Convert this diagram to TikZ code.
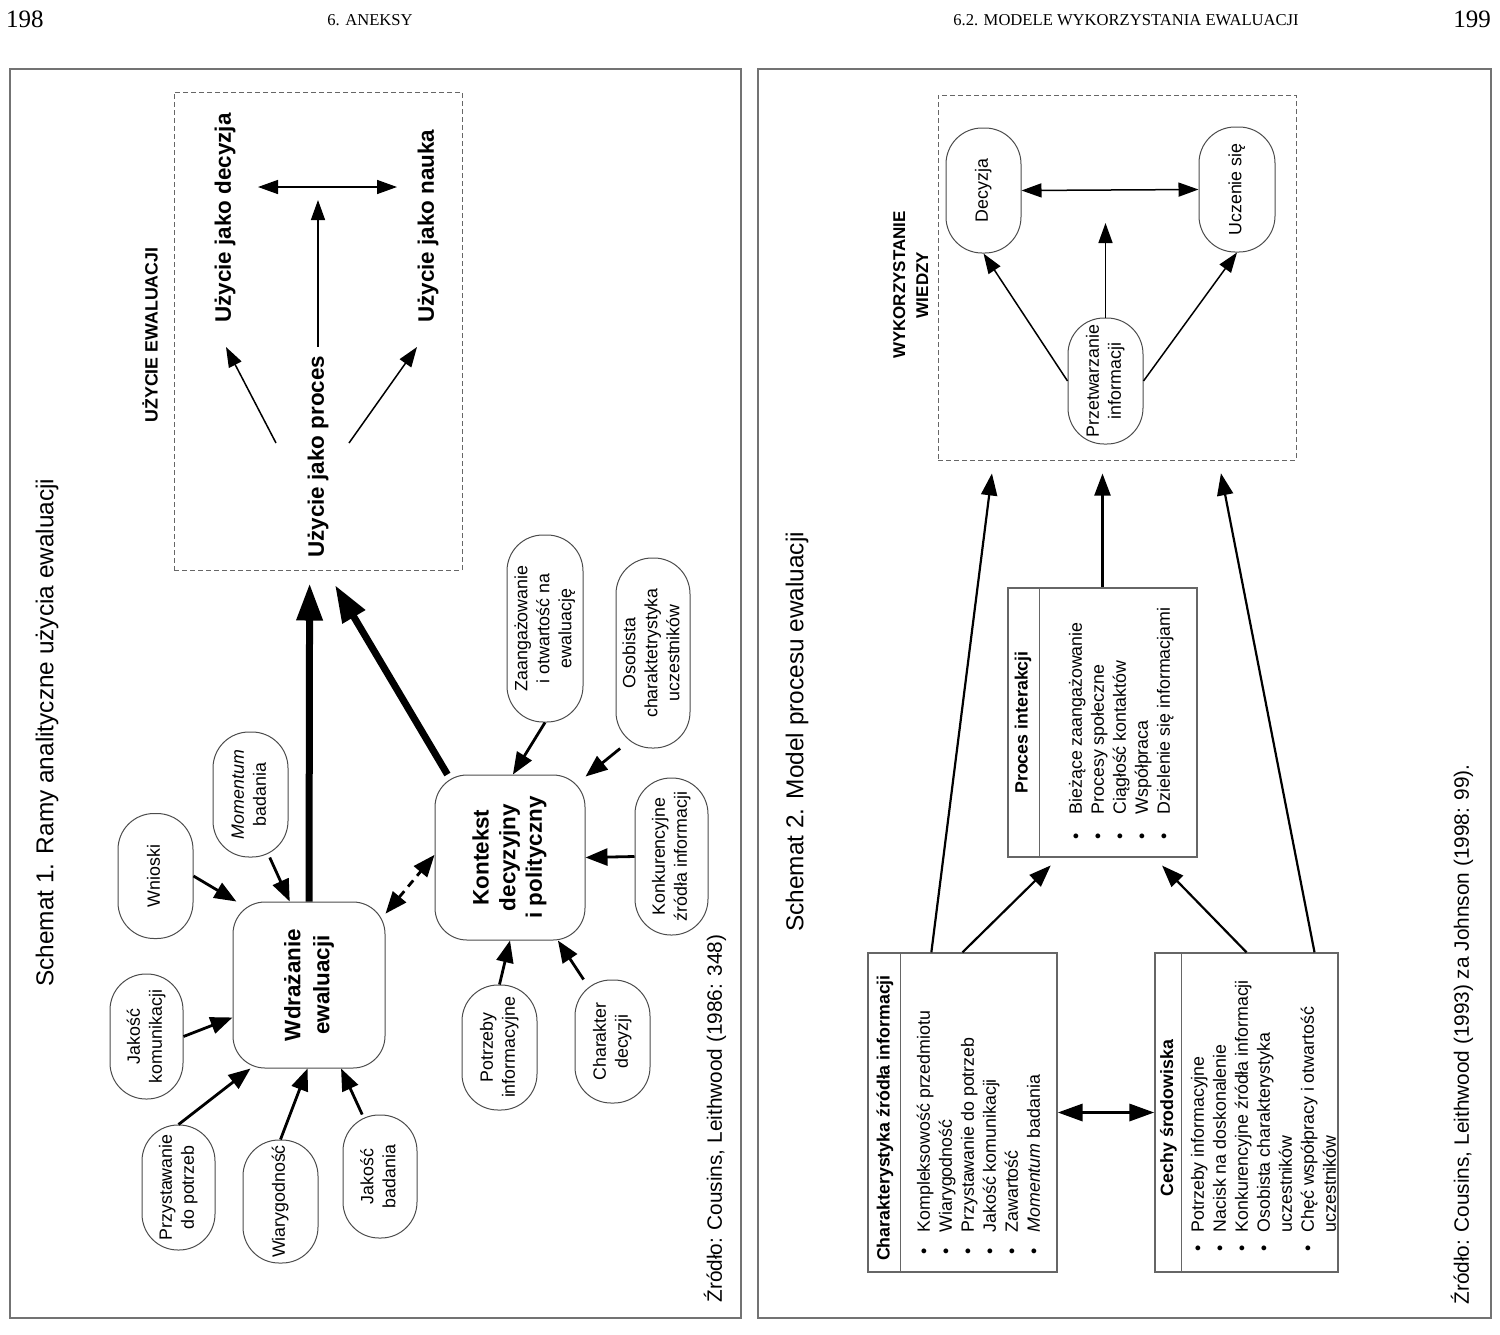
\documentclass[tikz,border=0pt]{standalone}
\usepackage{fontspec}
\setmainfont{Liberation Sans}
\newfontfamily\pagefont{Liberation Serif}
\usepackage{graphicx}
\usetikzlibrary{arrows.meta,calc}
\newlength\unitpx
\setlength\unitpx{0.5pt}
\newcommand{\vlines}[1]{\rotatebox{90}{\begin{tabular}{@{}c@{}}#1\end{tabular}}}
\newcommand{\vlist}[2]{\rotatebox{90}{\begin{tabular}{@{}l@{\hspace{#1}}l@{}}#2\end{tabular}}}

\begin{document}
\begin{tikzpicture}[x=0.5pt,y=-0.5pt,
  oval/.style={draw=black!70, line width=0.5pt, rounded corners=18pt, minimum width=75\unitpx, minimum height=125\unitpx, inner sep=0pt, font=\fontsize{8.9}{11}\selectfont},
  core/.style={draw=black!70, line width=0.5pt, rounded corners=16pt, minimum width=152\unitpx, minimum height=166\unitpx, inner sep=0pt, font=\bfseries\fontsize{11.2}{14.5}\selectfont},
  pageframe/.style={draw=black!55, line width=0.8pt},
  dashframe/.style={draw=black!60, line width=0.5pt, dash pattern=on 2.5pt off 1.5pt, inner sep=0pt},
  listframe/.style={draw=black!60, line width=0.7pt, inner sep=0pt},
  vtext/.style={rotate=90, inner sep=0pt},
  smalltxt/.style={font=\fontsize{8.9}{11}\selectfont},
  hdrtxt/.style={font=\bfseries\fontsize{8.9}{11}\selectfont},
  bigtxt/.style={font=\bfseries\fontsize{11.2}{14.5}\selectfont},
  thinarr/.style={line width=0.75pt, -{Triangle[length=10pt,width=7pt]}},
  thindbl/.style={line width=0.75pt, {Triangle[length=10pt,width=7pt]}-{Triangle[length=10pt,width=7pt]}},
  midarr/.style={line width=1.4pt, -{Triangle[length=11pt,width=8.5pt]}},
  middash/.style={line width=1.4pt, dash pattern=on 4pt off 3pt, {Triangle[length=11pt,width=8.5pt]}-{Triangle[length=11pt,width=8.5pt]}},
  bigarr/.style={line width=3.5pt, -{Triangle[length=18.5pt,width=12.5pt]}},
  arr2/.style={line width=1.1pt, -{Triangle[length=11pt,width=8pt]}},
  dblarr/.style={line width=1.7pt, {Triangle[length=12.5pt,width=8.5pt]}-{Triangle[length=12.5pt,width=8.5pt]}}]
  \useasboundingbox (0,0) rectangle (1500,1334);

  \node[anchor=base, font=\pagefont\fontsize{12.5}{14}\selectfont] (pnl) at (25,27) {198};
  \node[anchor=base, font=\pagefont\fontsize{8.3}{10}\selectfont] (runl) at (370,25) {6. ANEKSY};
  \node[anchor=base, font=\pagefont\fontsize{8.3}{10}\selectfont] (runr) at (1126,25) {6.2. MODELE WYKORZYSTANIA EWALUACJI};
  \node[anchor=base, font=\pagefont\fontsize{12.5}{14}\selectfont] (pnr) at (1472,27) {199};

  \draw[pageframe] (10,69) rectangle (741,1318);
  \draw[pageframe] (758,69) rectangle (1491,1318);

  % schemat 1
  \node[vtext, anchor=west, font=\fontsize{12.2}{14}\selectfont] (title1) at (47,987) {Schemat 1. Ramy analityczne użycia ewaluacji};
  \node[vtext, anchor=west, font=\fontsize{10.4}{12}\selectfont] (src1) at (715,1303) {Źródło: Cousins, Leithwood (1986: 348)};

  \node[dashframe, minimum width=288\unitpx, minimum height=478\unitpx] (uzycie) at (318,331) {};
  \node[vtext, hdrtxt] (uzyciet) at (150,335) {UŻYCIE EWALUACJI};
  \node[vtext, anchor=west, bigtxt] (decyzja) at (225,323) {Użycie jako decyzja};
  \node[vtext, anchor=west, bigtxt] (nauka) at (428,323) {Użycie jako nauka};
  \node[vtext, anchor=west, bigtxt] (proces) at (318,558) {Użycie jako proces};
  \coordinate (hl) at (258,187);
  \coordinate (hr) at (397,187);
  \coordinate (tv) at (318,200);
  \coordinate (pl) at (276,443);
  \coordinate (tl) at (226,347);
  \coordinate (pr) at (349,443);
  \coordinate (tr) at (417,347);
  \draw[thindbl] (hl) -- (hr);
  \draw[thinarr, shorten <=9\unitpx] (proces.east) -- (tv);
  \draw[thinarr] (pl) -- (tl);
  \draw[thinarr] (pr) -- (tr);

  \node[core] (wdr) at (309,985) {\vlines{Wdrażanie\\ewaluacji}};
  \node[core, font=\bfseries\fontsize{11.2}{13.3}\selectfont, minimum width=150\unitpx, minimum height=165\unitpx] (kontekst) at (510,857.5) {\vlines{Kontekst\\decyzyjny\\i polityczny}};

  \node[oval] (wnioski) at (155.5,876) {\vlines{Wnioski}};
  \node[oval] (momentum) at (250.5,794.5) {\vlines{\textit{Momentum}\\badania}};
  \node[oval, minimum width=73\unitpx] (jkom) at (146.5,1036.5) {\vlines{Jakość\\komunikacji}};
  \node[oval, minimum width=73\unitpx] (przyst) at (178.5,1187.5) {\vlines{Przystawanie\\do potrzeb}};
  \node[oval, minimum height=123\unitpx] (wiar) at (280.5,1201.5) {\vlines{Wiarygodność}};
  \node[oval, minimum width=74\unitpx, minimum height=123\unitpx] (jbad) at (380,1176.5) {\vlines{Jakość\\badania}};
  \node[oval, minimum width=76\unitpx, minimum height=187\unitpx] (zaang) at (545,628.5) {\vlines{Zaangażowanie\\i otwartość na\\ewaluację}};
  \node[oval, minimum width=74\unitpx, minimum height=190\unitpx] (osob) at (653,653) {\vlines{Osobista\\charaktetrystyka\\uczestników}};
  \node[oval, minimum width=73\unitpx, minimum height=157\unitpx] (konk) at (671.5,856.5) {\vlines{Konkurencyjne\\źródła informacji}};
  \node[oval] (potrz) at (499.5,1047.5) {\vlines{Potrzeby\\informacyjne}};
  \node[oval, minimum height=123\unitpx] (charak) at (612.5,1041.5) {\vlines{Charakter\\decyzji}};

  \draw[midarr] (wnioski.east) -- (wdr.131);
  \draw[midarr] (momentum.-73) -- (wdr.103);
  \draw[midarr] (jkom.east) -- (wdr.-157.4);
  \draw[midarr] (przyst.north) -- (wdr.-125);
  \draw[midarr] (wiar.north) -- (wdr.-91);
  \draw[midarr] (jbad.106) -- (wdr.-69.5);
  \draw[middash] (wdr.43) -- (kontekst.178);
  \draw[midarr] (zaang.south) -- (kontekst.88);
  \draw[midarr] (osob.-109.5) -- (kontekst.47);
  \draw[midarr] (konk.west) -- (kontekst.east);
  \draw[midarr] (potrz.north) -- (kontekst.south);
  \draw[midarr] (charak.115) -- (kontekst.-60.5);
  \draw[bigarr, shorten >=13\unitpx] (wdr.north) -- (uzycie.-92.4);
  \draw[bigarr, shorten >=17\unitpx] (kontekst.127) -- (uzycie.-88.6);

  % schemat 2
  \node[vtext, anchor=west, font=\fontsize{12.2}{14}\selectfont] (title2) at (797,932) {Schemat 2. Model procesu ewaluacji};
  \node[vtext, anchor=west, font=\fontsize{10.4}{12}\selectfont] (src2) at (1462,1305) {Źródło: Cousins, Leithwood (1993) za Johnson (1998: 99).};

  \node[dashframe, minimum width=358\unitpx, minimum height=365\unitpx] (wyk) at (1117,277.5) {};
  \node[font=\bfseries\fontsize{8.5}{11.5}\selectfont] (wykt) at (912,285) {\vlines{WYKORZYSTANIE\\WIEDZY}};
  \node[oval] (decyzja2) at (983.5,190.5) {\vlines{Decyzja}};
  \node[oval, minimum width=76\unitpx] (uczenie) at (1237,189.5) {\vlines{Uczenie się}};
  \node[oval, minimum height=126\unitpx] (przetw) at (1105.5,381) {\vlines{Przetwarzanie\\informacji}};
  \coordinate (pt) at (1105.5,223);
  \draw[thindbl] (decyzja2.east) -- (uczenie.west);
  \draw[thinarr] (przetw.north) -- (pt);
  \draw[thinarr] (przetw.west) -- (decyzja2.south);
  \draw[thinarr] (przetw.east) -- (uczenie.south);

  \node[listframe, minimum width=189\unitpx, minimum height=269\unitpx] (interakcja) at (1102.5,722.5) {};
  \draw[listframe] ($(interakcja.north west)+(32,0)$) -- ($(interakcja.south west)+(32,0)$);
  \node[vtext, hdrtxt] (interakcjat) at (1023,722.5) {Proces interakcji};
  \node[anchor=south west, inner sep=0pt, smalltxt] (interakcjal) at (1066,840) {\vlist{9.5pt}{\textbullet & Bieżące zaangażowanie\\ \textbullet & Procesy społeczne\\ \textbullet & Ciągłość kontaktów\\ \textbullet & Współpraca\\ \textbullet & Dzielenie się informacjami}};

  \node[listframe, minimum width=189\unitpx, minimum height=319\unitpx] (zrodlo) at (962.5,1112.5) {};
  \draw[listframe] ($(zrodlo.north west)+(33,0)$) -- ($(zrodlo.south west)+(33,0)$);
  \node[vtext, hdrtxt] (zrodlot) at (885,1118) {Charakterystyka źródła informacji};
  \node[anchor=south west, inner sep=0pt, smalltxt] (zrodlol) at (914,1255) {\vlist{8pt}{\textbullet & Kompleksowość przedmiotu\\ \textbullet & Wiarygodność\\ \textbullet & Przystawanie do potrzeb\\ \textbullet & Jakość komunikacji\\ \textbullet & Zawartość\\ \textbullet & \textit{Momentum} badania}};

  \node[listframe, minimum width=183\unitpx, minimum height=319\unitpx] (srodowisko) at (1246.5,1112.5) {};
  \draw[listframe] ($(srodowisko.north west)+(27,0)$) -- ($(srodowisko.south west)+(27,0)$);
  \node[vtext, hdrtxt] (srodowiskot) at (1168.5,1118) {Cechy środowiska};
  \node[anchor=south west, inner sep=0pt, smalltxt] (srodowiskol) at (1188,1252) {\vlist{6.5pt}{\textbullet & Potrzeby informacyjne\\ \textbullet & Nacisk na doskonalenie\\ \textbullet & Konkurencyjne źródła informacji\\ \textbullet & Osobista charakterystyka\\ & uczestników\\ \textbullet & Chęć współpracy i otwartość\\ & uczestników}};

  \draw[arr2, shorten >=13\unitpx] (interakcja.north) -- (interakcja.north |- wyk.south);
  \draw[arr2, shorten >=13\unitpx] (zrodlo.101.5) -- (wyk.-124.6);
  \draw[arr2, shorten >=11\unitpx] (zrodlo.north) -- (interakcja.-108.3);
  \draw[arr2, shorten >=11\unitpx] (srodowisko.north) -- (interakcja.-69);
  \draw[arr2, shorten >=13\unitpx] (srodowisko.67.7) -- (wyk.-61.5);
  \draw[dblarr] (zrodlo.east) -- (srodowisko.west);
\end{tikzpicture}
\end{document}
